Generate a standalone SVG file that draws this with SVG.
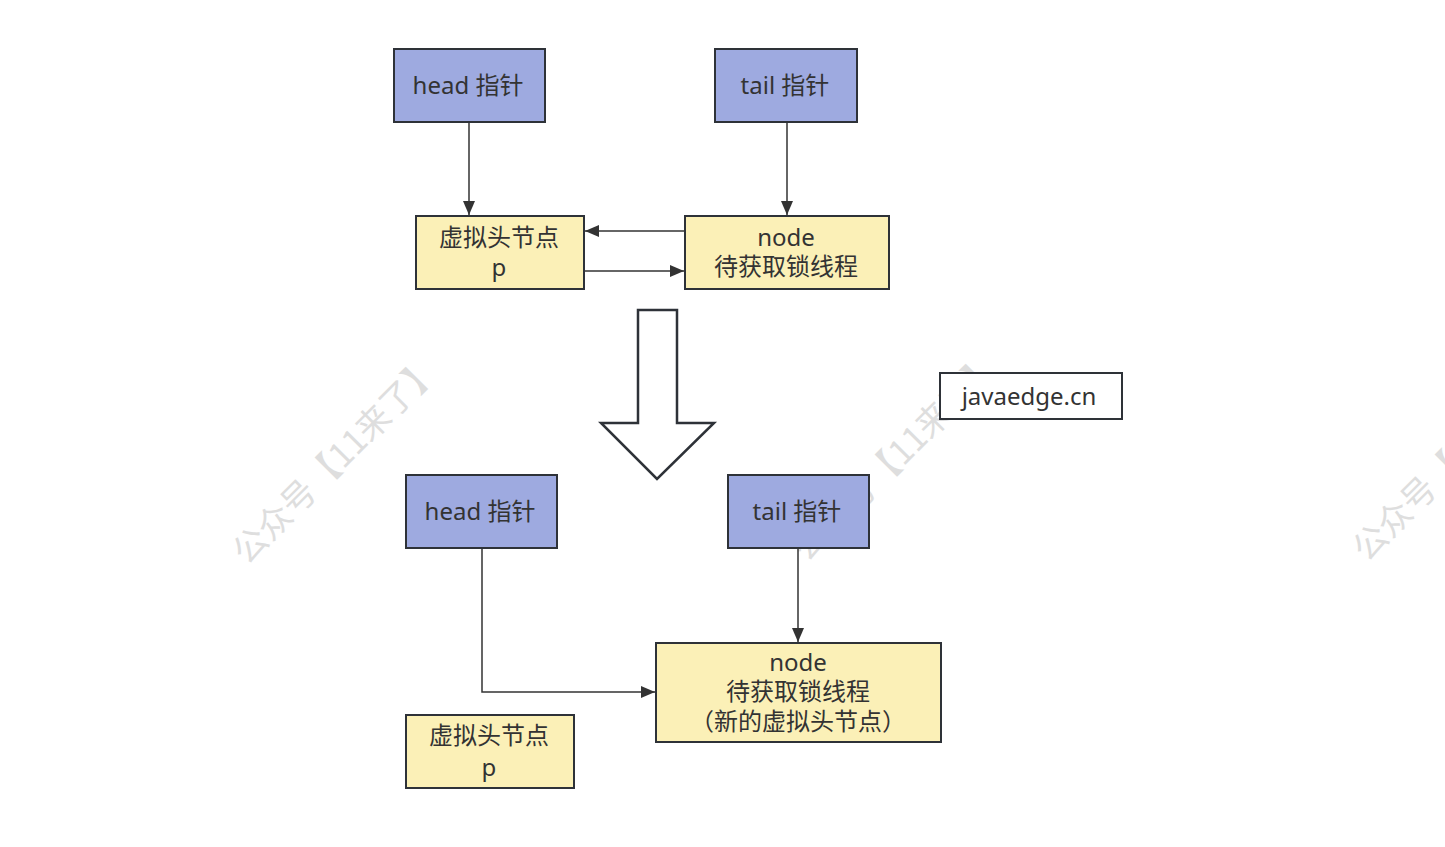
<svg xmlns="http://www.w3.org/2000/svg" width="1445" height="847" viewBox="0 0 1445 847">
<defs>
<marker id="arr" viewBox="0 0 14 12" refX="14" refY="6" markerWidth="14" markerHeight="12" markerUnits="userSpaceOnUse" orient="auto">
<path d="M0,0 L14,6 L0,12 Z" fill="#333333"/>
</marker>
</defs>
<style>
.wm{font-family:"Noto Sans CJK SC",sans-serif;font-size:34px;fill:#dedede;text-anchor:middle}
.blue{fill:#9eaae0;stroke:#2e3238;stroke-width:2}
.yel{fill:#fbf0b7;stroke:#2e3238;stroke-width:2}
.wh{fill:#ffffff;stroke:#2e3238;stroke-width:2}
.t{font-family:"Noto Sans","Noto Sans CJK SC",sans-serif;font-size:24px;fill:#333333;text-anchor:middle;dominant-baseline:central}
.c{fill:none;stroke:#333333;stroke-width:1.5;marker-end:url(#arr)}
</style>
<rect width="1445" height="847" fill="#ffffff"/>
<g id="watermarks">
<text class="wm" transform="translate(336,460) rotate(-45)" dy="12">公众号【11来了】</text>
<text class="wm" transform="translate(896,457) rotate(-45)" dy="12">公众号【11来了】</text>
<text class="wm" transform="translate(1456,457) rotate(-45)" dy="12">公众号【11来了】</text>
</g>
<g id="big-arrow">
<path d="M638,310 L677,310 L677,423 L714,423 L657,479 L601,423 L638,423 Z" fill="#ffffff" stroke="#2e3238" stroke-width="2.5" stroke-linejoin="miter"/>
</g>
<g id="connectors">
<path class="c" d="M469,123 L469,215"/>
<path class="c" d="M787,123 L787,215"/>
<path class="c" d="M684,231 L585,231"/>
<path class="c" d="M584,271 L684,271"/>
<path class="c" d="M798,549 L798,642"/>
<path class="c" d="M482,549 L482,692 L655,692"/>
</g>
<g id="head1"><rect class="blue" x="394" y="49" width="151" height="73"/><text class="t" x="468" y="84">head 指针</text></g>
<g id="tail1"><rect class="blue" x="715" y="49" width="142" height="73"/><text class="t" x="785" y="84">tail 指针</text></g>
<g id="vhead1"><rect class="yel" x="416" y="216" width="168" height="73"/><text class="t" x="499" y="236">虚拟头节点</text><text class="t" x="499" y="266">p</text></g>
<g id="node1"><rect class="yel" x="685" y="216" width="204" height="73"/><text class="t" x="786" y="236">node</text><text class="t" x="786" y="265">待获取锁线程</text></g>
<g id="site"><rect class="wh" x="940" y="373" width="182" height="46"/><text class="t" x="1029" y="395">javaedge.cn</text></g>
<g id="head2"><rect class="blue" x="406" y="475" width="151" height="73"/><text class="t" x="480" y="510">head 指针</text></g>
<g id="tail2"><rect class="blue" x="728" y="475" width="141" height="73"/><text class="t" x="797" y="510">tail 指针</text></g>
<g id="node2"><rect class="yel" x="656" y="643" width="285" height="99"/><text class="t" x="798" y="661">node</text><text class="t" x="798" y="690">待获取锁线程</text><text class="t" x="798" y="720">（新的虚拟头节点）</text></g>
<g id="vhead2"><rect class="yel" x="406" y="715" width="168" height="73"/><text class="t" x="489" y="734">虚拟头节点</text><text class="t" x="489" y="766">p</text></g>
</svg>
